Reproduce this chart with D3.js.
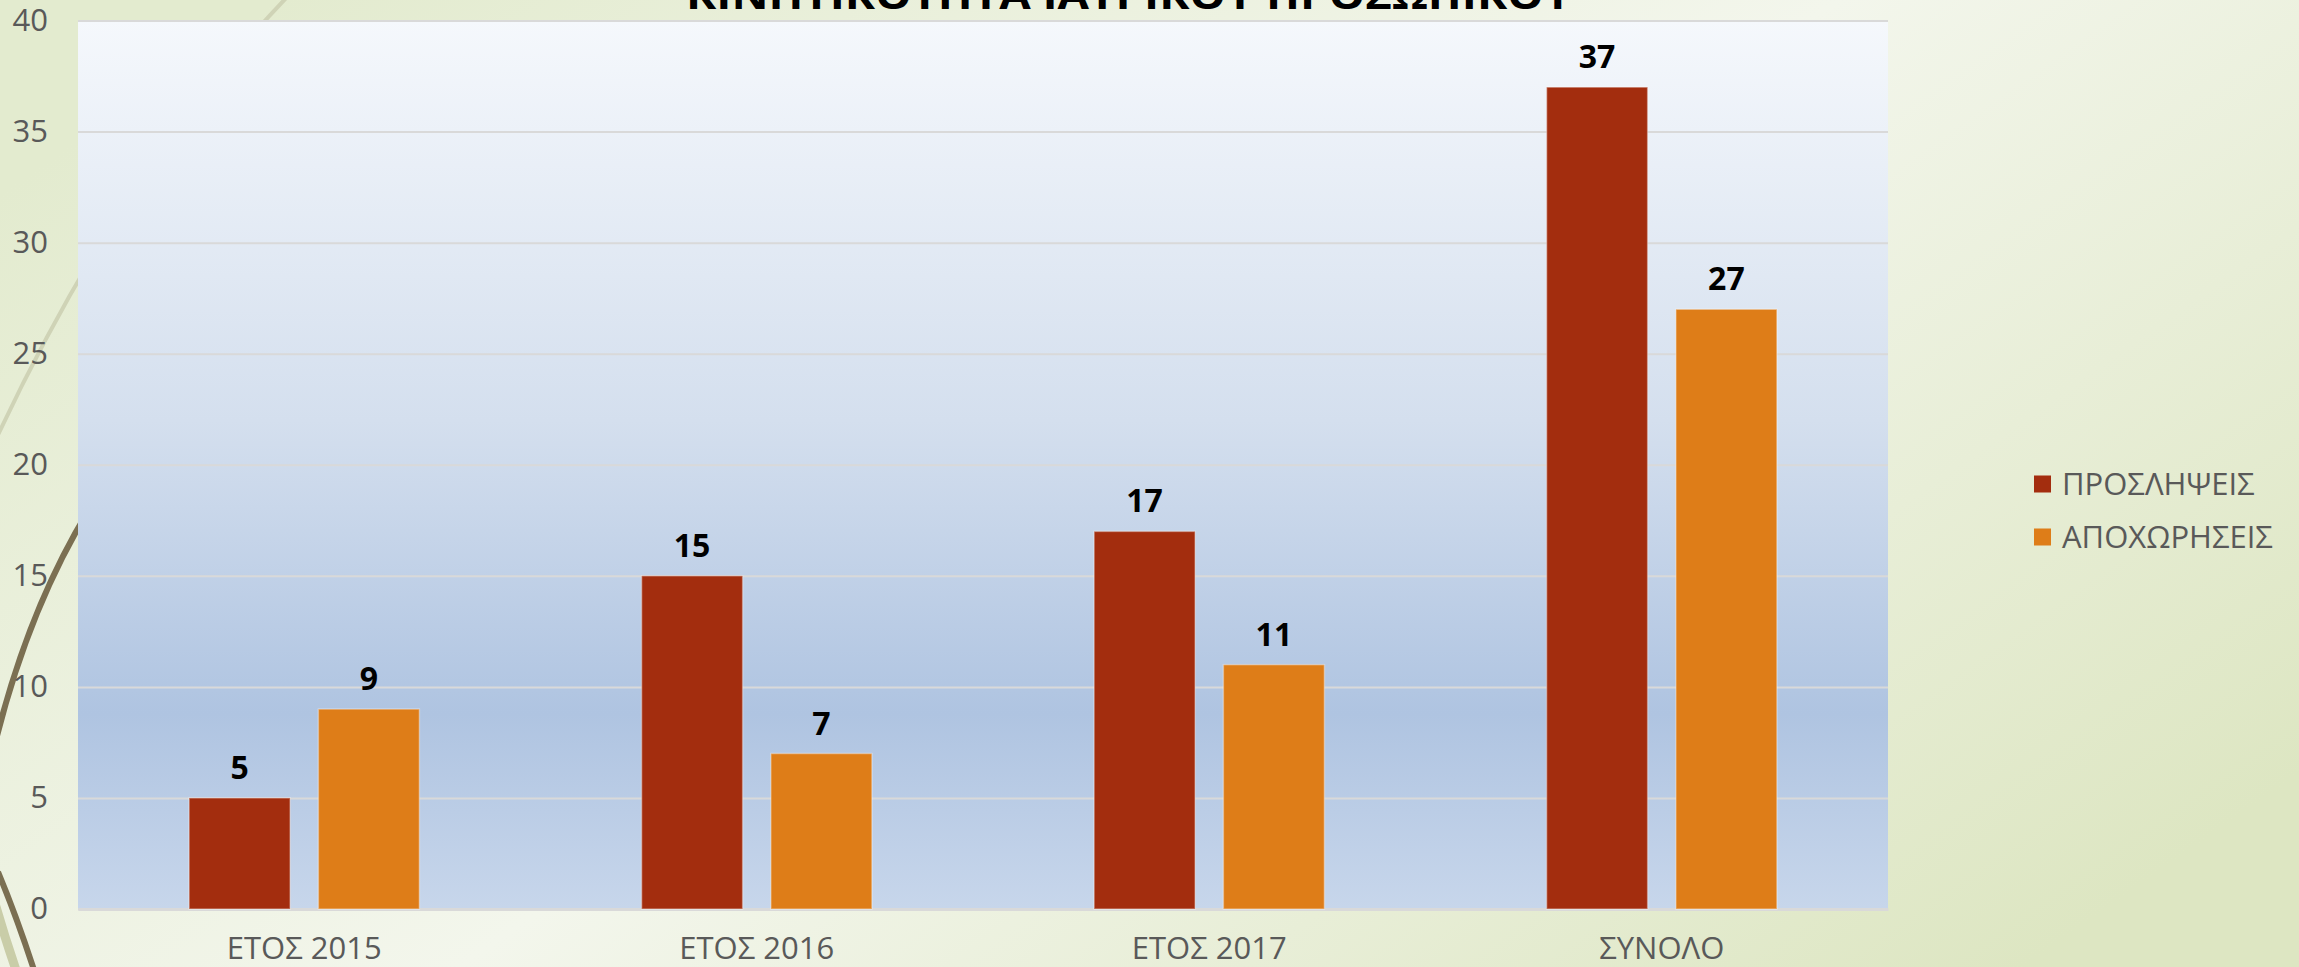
<!DOCTYPE html>
<html>
<head>
<meta charset="utf-8">
<script src="https://cdn.jsdelivr.net/npm/d3@7"></script>
<style>
  body { margin: 0; overflow: hidden; }
  #wrapper text { font-family: "Century Gothic", "Open Sans", sans-serif; }
  .tick-label { fill: #595959; }
</style>
</head>
<body>
<div id="wrapper"></div>
<script>
// chart data
const categories = ["ΕΤΟΣ 2015", "ΕΤΟΣ 2016", "ΕΤΟΣ 2017", "ΣΥΝΟΛΟ"]
const seriesNames = ["ΠΡΟΣΛΗΨΕΙΣ", "ΑΠΟΧΩΡΗΣΕΙΣ"]
const proslipseis = [5, 15, 17, 37]
const apoxoriseis = [9, 7, 11, 27]
const seriesColors = ["#a32d0e", "#de7d18"]
const yTicks = [0, 5, 10, 15, 20, 25, 30, 35, 40]
const chartTitle = "ΚΙΝΗΤΙΚΟΤΗΤΑ ΙΑΤΡΙΚΟΥ ΠΡΟΣΩΠΙΚΟΥ"

async function drawChart() {
  // access data
  const seriesValues = [proslipseis, apoxoriseis]
  const dataset = categories.map((c, i) => ({
    category: c,
    values: seriesNames.map((s, j) => ({ series: s, value: seriesValues[j][i] }))
  }))

  const xAccessor = d => d.category
  const yAccessor = d => d.value

  // create chart dimensions
  let dimensions = {
    width: 2299,
    height: 967,
    margin: {
      top: 20.5,
      right: 411,
      bottom: 58,
      left: 78
    }
  }
  dimensions.boundedWidth = dimensions.width
    - dimensions.margin.left
    - dimensions.margin.right
  dimensions.boundedHeight = dimensions.height
    - dimensions.margin.top
    - dimensions.margin.bottom

  // draw canvas
  const wrapper = d3.select("#wrapper")
    .append("svg")
      .attr("width", dimensions.width)
      .attr("height", dimensions.height)

  const defs = wrapper.append("defs")

  const bgGradient = defs.append("linearGradient")
    .attr("id", "bg-gradient")
    .attr("x1", 0).attr("y1", 0.2).attr("x2", 1).attr("y2", 0.8)
  bgGradient.append("stop").attr("offset", 0).attr("stop-color", "#e3ebcf")
  bgGradient.append("stop").attr("offset", 0.5).attr("stop-color", "#f3f6ec")
  bgGradient.append("stop").attr("offset", 1).attr("stop-color", "#dde6c2")

  const plotGradient = defs.append("linearGradient")
    .attr("id", "plot-gradient")
    .attr("x1", 0).attr("y1", 0).attr("x2", 0).attr("y2", 1)
  plotGradient.append("stop").attr("offset", 0).attr("stop-color", "#f5f8fc")
  plotGradient.append("stop").attr("offset", 0.45).attr("stop-color", "#d4dfee")
  plotGradient.append("stop").attr("offset", 0.78).attr("stop-color", "#afc4e1")
  plotGradient.append("stop").attr("offset", 1).attr("stop-color", "#c7d6eb")

  // slide background and wisp lines
  wrapper.append("rect")
    .attr("width", dimensions.width)
    .attr("height", dimensions.height)
    .attr("fill", "url(#bg-gradient)")

  const wisps = wrapper.append("g").attr("fill", "none")
  wisps.append("path")
    .attr("d", "M-10,452 Q120,170 290,-6")
    .attr("stroke", "#cfd3b6")
    .attr("stroke-width", 4)
  wisps.append("path")
    .attr("d", "M-10,765 Q25,610 95,500")
    .attr("stroke", "#7b6f52")
    .attr("stroke-width", 6)
  wisps.append("path")
    .attr("d", "M-6,900 Q4,935 16,970")
    .attr("stroke", "#c9cda8")
    .attr("stroke-width", 9)
  wisps.append("path")
    .attr("d", "M-2,872 Q16,915 34,970")
    .attr("stroke", "#7b6f52")
    .attr("stroke-width", 6)

  // title, clipped by the top edge
  wrapper.append("text")
    .attr("x", 1129)
    .attr("y", 9)
    .attr("text-anchor", "middle")
    .attr("textLength", 886)
    .attr("lengthAdjust", "spacingAndGlyphs")
    .style("font-size", "40px")
    .style("font-weight", "bold")
    .style("fill", "#000")
    .text(chartTitle)

  let bounds = wrapper.append("g")
    .attr("transform", `translate(${dimensions.margin.left}, ${dimensions.margin.top})`)

  bounds.append("rect")
    .attr("width", dimensions.boundedWidth)
    .attr("height", dimensions.boundedHeight)
    .attr("fill", "url(#plot-gradient)")

  // create scales
  const xScale = d3.scaleBand()
    .domain(categories)
    .range([0, dimensions.boundedWidth])

  const seriesScale = d3.scaleBand()
    .domain(seriesNames)
    .range([0, xScale.bandwidth()])
    .paddingInner(0.28 / 1.28)
    .paddingOuter(1.1 / 1.28)

  const yScale = d3.scaleLinear()
    .domain([0, 40])
    .range([dimensions.boundedHeight, 0])

  const colorScale = d3.scaleOrdinal()
    .domain(seriesNames)
    .range(seriesColors)

  // draw peripherals
  const gridGenerator = d3.axisLeft()
    .scale(yScale)
    .tickValues(yTicks)
    .tickSize(-dimensions.boundedWidth)
    .tickFormat("")

  const grid = bounds.append("g")
    .call(gridGenerator)
  grid.select(".domain").remove()
  grid.selectAll("line")
    .attr("stroke", "#d9d9d9")
    .attr("stroke-width", 2)

  const yAxisGenerator = d3.axisLeft()
    .scale(yScale)
    .tickValues(yTicks)
    .tickSize(0)
    .tickPadding(30)

  const yAxis = bounds.append("g")
    .call(yAxisGenerator)
  yAxis.select(".domain").remove()
  yAxis.selectAll("text")
    .attr("class", "tick-label")
    .style("font-size", "31px")

  const xAxisGenerator = d3.axisBottom()
    .scale(xScale)
    .tickSize(0)
    .tickSizeOuter(0)
    .tickPadding(28)

  const xAxis = bounds.append("g")
    .call(xAxisGenerator)
      .attr("transform", `translate(0, ${dimensions.boundedHeight})`)
  xAxis.select(".domain")
    .attr("stroke", "#d9d9d9")
    .attr("stroke-width", 3)
  xAxis.selectAll("text")
    .attr("class", "tick-label")
    .style("font-size", "31px")

  // draw data
  const groups = bounds.selectAll(".group")
    .data(dataset)
    .enter().append("g")
      .attr("class", "group")
      .attr("transform", d => `translate(${xScale(xAccessor(d))}, 0)`)

  groups.selectAll("rect")
    .data(d => d.values)
    .enter().append("rect")
      .attr("x", d => seriesScale(d.series))
      .attr("y", d => yScale(yAccessor(d)))
      .attr("width", seriesScale.bandwidth())
      .attr("height", d => dimensions.boundedHeight - yScale(yAccessor(d)))
      .attr("fill", d => colorScale(d.series))
      .attr("stroke", "rgba(255,255,255,0.35)")
      .attr("stroke-width", 1.5)

  groups.selectAll(".value-label")
    .data(d => d.values)
    .enter().append("text")
      .attr("class", "value-label")
      .attr("x", d => seriesScale(d.series) + seriesScale.bandwidth() / 2)
      .attr("y", d => yScale(yAccessor(d)) - 19)
      .attr("text-anchor", "middle")
      .style("font-size", "32px")
      .style("font-weight", "bold")
      .style("fill", "#000")
      .text(yAccessor)

  // legend
  const legend = wrapper.append("g")
    .attr("transform", "translate(2034, 484)")

  const legendItems = legend.selectAll("g")
    .data(seriesNames)
    .enter().append("g")
      .attr("transform", (d, i) => `translate(0, ${i * 53})`)

  legendItems.append("rect")
    .attr("y", -8.5)
    .attr("width", 17)
    .attr("height", 17)
    .attr("fill", d => colorScale(d))

  legendItems.append("text")
    .attr("class", "tick-label")
    .attr("x", 28)
    .attr("dy", "0.35em")
    .style("font-size", "31px")
    .text(d => d)
}

drawChart()
</script>
</body>
</html>
